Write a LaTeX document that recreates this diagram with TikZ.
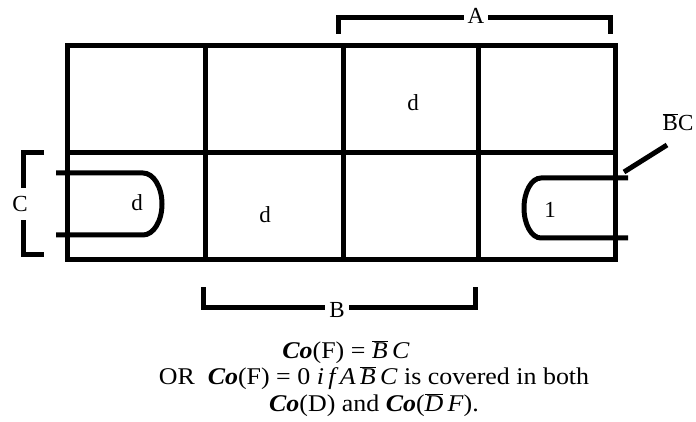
\documentclass[tikz,border=0pt]{standalone}
\usepackage{fontspec}
\setmainfont{Liberation Serif}
\tikzset{
  thick line/.style={line width=5pt, black},
  lbl/.style={font=\fontsize{23}{26}\selectfont, inner sep=1pt},
  eqn/.style={font=\fontsize{24}{26}\selectfont, inner sep=1pt, xscale=1.08},
  brlbl/.style={lbl, fill=white, inner xsep=4pt},
}
\newcommand{\co}{\textbf{\textit{Co}}}
\newcommand{\ovl}[1]{\ensuremath{\overline{\mbox{#1}}}}
\begin{document}
\begin{tikzpicture}[x=1pt,y=-1pt]
\useasboundingbox (0,0) rectangle (696,422);
% grid
\draw[thick line] (67,46) rectangle (615,259);
\draw[thick line] (67,153) -- (615,153);
\draw[thick line] (205,46) -- (205,259);
\draw[thick line] (343,46) -- (343,259);
\draw[thick line] (478,46) -- (478,259);
% cell labels
\node[lbl] (d1) at (413,103) {d};
\node[lbl] (d2) at (265,215) {d};
\node[lbl] (d3) at (137,203) {d};
\node[lbl] (one) at (550,210) {1};
% loops
\draw[thick line] (56,173) -- (143,173) arc[start angle=-90,end angle=90,x radius=19,y radius=31] -- (56,235);
\draw[thick line] (628,178) -- (541,178) arc[start angle=-90,end angle=-270,x radius=17,y radius=30] -- (628,238);
% bracket A
\draw[thick line] (338,34) -- (338,18) -- (610,18) -- (610,34);
\node[brlbl] (A) at (476,16) {A};
% bracket B
\draw[thick line] (203,287) -- (203,307) -- (475,307) -- (475,287);
\node[brlbl] (B) at (337,310) {B};
% bracket C
\draw[thick line] (44,153) -- (23,153) -- (23,254) -- (44,254);
\node[brlbl, inner ysep=8pt] (C) at (20,204) {C};
% BC label
\node[lbl] (BC) at (678,122) {\ovl{B}C};
\coordinate (bcend) at (624,172);
\draw[thick line] (667,145) -- (bcend);
% equations
\node[eqn] (eq1) at (346,352) {\co(F) = \textit{\ovl{B}\,C}};
\node[eqn] (eq2) at (374,378) {OR\ \ \co(F) = 0 \textit{i\,f\,A\,\ovl{B}\,C} is covered in both};
\node[eqn] (eq3) at (374,405) {\co(D) and \co(\textit{\ovl{D}\,F}).};
\end{tikzpicture}
\end{document}
